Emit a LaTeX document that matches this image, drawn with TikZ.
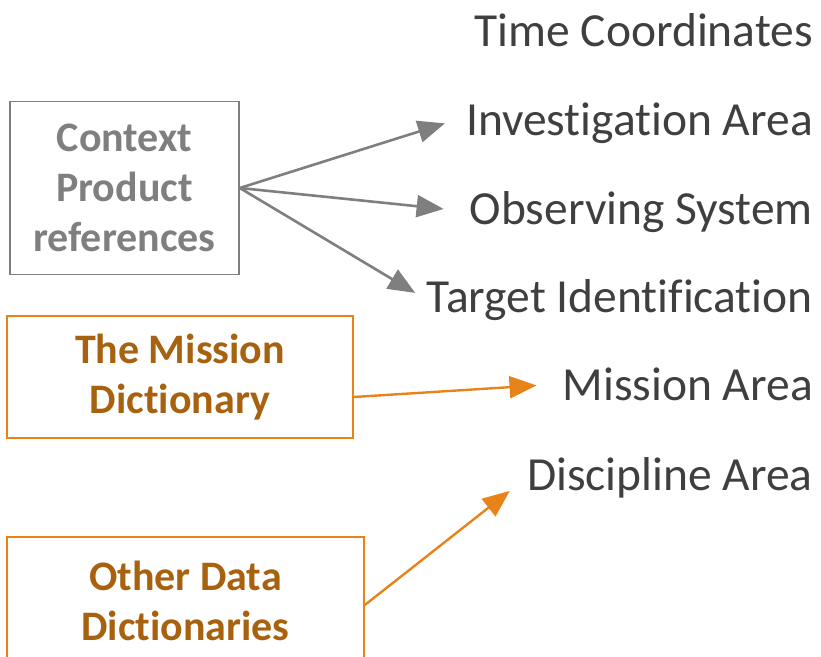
\documentclass[tikz,border=0pt]{standalone}
\usepackage{fontspec}
\setmainfont{Carlito}[Ligatures={NoCommon,NoContextual}]
\usepackage{xcolor}
\usetikzlibrary{arrows.meta,positioning}
\definecolor{refgray}{HTML}{7F7F7F}
\definecolor{dictorange}{HTML}{E8831A}
\definecolor{dictbrown}{HTML}{A8620F}
\definecolor{labelgray}{HTML}{3F3F3F}
\tikzset{
  srcbox/.style={
    draw,
    line width=1.6pt,
    align=center,
    inner sep=0pt,
    font=\fontsize{42}{50}\selectfont\bfseries
  },
  ctxbox/.style={srcbox, draw=refgray, text=refgray},
  dictbox/.style={srcbox, draw=dictorange, text=dictbrown},
  arealabel/.style={
    anchor=base east,
    inner sep=0pt,
    text=labelgray,
    font=\fontsize{47.5}{56}\selectfont
  },
  refflow/.style={-{Triangle[length=27pt,width=22pt]}, line width=2.6pt, draw=refgray},
  dictflow/.style={-{Triangle[length=27pt,width=22pt]}, line width=2.4pt, draw=dictorange}
}

\begin{document}
\begin{tikzpicture}[x=1pt,y=-1pt]
\useasboundingbox (0,0) rectangle (821,656);

% area names on the right
\node[arealabel] (time) at (813,46) {Time Coordinates};
\node[arealabel] (inv) at (813,135) {Investigation Area};
\node[arealabel] (obs) at (813,224) {Observing System};
\node[arealabel] (tgt) at (813,312) {Target Identification};
\node[arealabel] (mis) at (813,400) {Mission Area};
\node[arealabel] (disc) at (813,490) {Discipline Area};

% sources on the left
\node[ctxbox, minimum width=229pt, minimum height=173pt] (ctx) at (124.5,188) {Context\\Product\\references};
\node[dictbox, minimum width=346pt, minimum height=122pt] (missdict) at (180,377) {The Mission\\Dictionary};
\node[dictbox, minimum width=357pt, minimum height=128pt] (otherdict) at (185.5,601) {Other Data\\Dictionaries};

\draw[refflow, shorten >=22pt] (ctx.east) -- ([yshift=6pt]inv.west);
\draw[refflow, shorten >=26pt] (ctx.east) -- (obs.west);
\draw[refflow, shorten >=13pt] (ctx.east) -- (tgt.west);
\draw[dictflow, shorten >=26pt] ([yshift=-20pt]missdict.east) -- (mis.west);
\draw[dictflow, shorten >=22pt] ([yshift=-4pt]otherdict.east) -- (disc.west);
\end{tikzpicture}
\end{document}
